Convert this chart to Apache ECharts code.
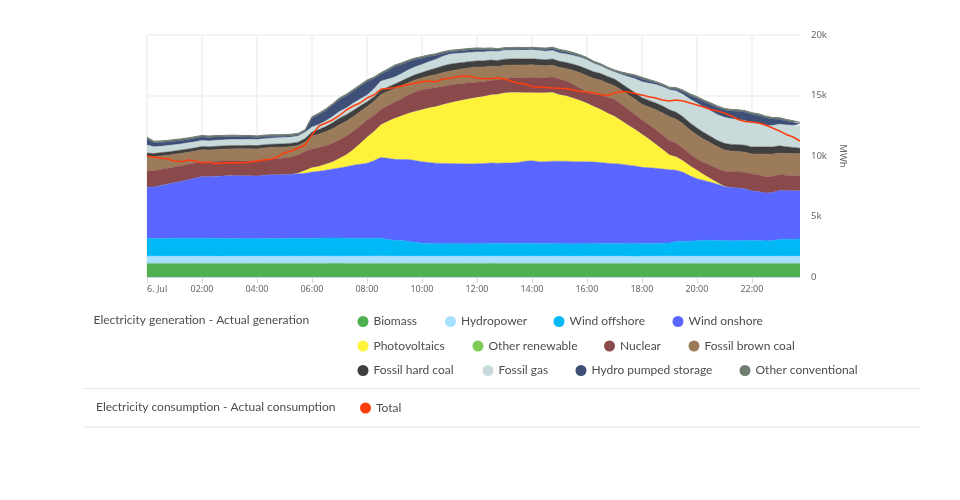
<!DOCTYPE html>
<html>
<head>
<meta charset="utf-8">
<style>html,body{margin:0;padding:0;background:#fff}#chart{width:960px;height:500px}</style>
<script src="https://cdn.jsdelivr.net/npm/echarts@6/dist/echarts.min.js"></script>
</head>
<body>
<div id="chart"></div>
<script>
// quarter-hour values in MWh, one line per hour
var biomass = [
  1125,1125,1120,1120, 1120,1125,1125,1120, 1120,1125,1120,1120, 1125,1125,1120,1120,
  1120,1120,1125,1125, 1120,1125,1125,1120, 1120,1125,1125,1130, 1130,1125,1125,1120,
  1120,1125,1120,1125, 1125,1120,1120,1125, 1125,1125,1125,1120, 1125,1125,1120,1120,
  1125,1125,1130,1125, 1125,1125,1120,1125, 1125,1120,1125,1125, 1125,1120,1120,1125,
  1125,1125,1120,1120, 1120,1125,1125,1120, 1125,1125,1120,1120, 1125,1125,1120,1120,
  1120,1125,1125,1120, 1125,1120,1120,1125, 1120,1125,1125,1120, 1120,1125,1120,1120
];
var hydro = [
  600,595,590,590, 590,585,585,590, 590,590,585,585, 585,590,590,590,
  590,590,590,585, 590,590,590,590, 590,595,595,590, 590,590,590,595,
  595,600,610,600, 595,590,590,590, 590,585,590,590, 590,590,595,590,
  590,590,590,595, 590,585,590,590, 590,590,585,590, 590,590,585,585,
  590,590,590,590, 595,590,580,580, 585,590,590,600, 600,595,590,590,
  590,590,585,590, 590,590,590,585, 585,590,580,590, 600,590,590,590
];
var windOffshore = [
  1470,1465,1470,1480, 1485,1490,1490,1485, 1490,1490,1485,1480, 1470,1460,1450,1450,
  1460,1465,1470,1470, 1470,1470,1480,1480, 1480,1490,1500,1500, 1500,1490,1490,1490,
  1490,1480,1470,1380, 1320,1300,1230,1150, 1080,1060,1040,1040, 1040,1040,1040,1030,
  1040,1040,1050,1060, 1060,1060,1060,1070, 1060,1050,1050,1050, 1040,1040,1040,1040,
  1040,1040,1050,1050, 1050,1050,1040,1040, 1050,1060,1060,1060, 1080,1220,1240,1250,
  1290,1320,1320,1310, 1300,1280,1280,1300, 1320,1310,1280,1300, 1380,1410,1400,1430
];
var windOnshore = [
  4230,4250,4370,4480, 4590,4700,4830,4960, 5090,5075,5120,5160, 5190,5190,5190,5200,
  5170,5230,5250,5260, 5280,5300,5330,5380, 5480,5520,5600,5700, 5785,5900,6030,6120,
  6200,6400,6680,6700, 6690,6700,6770,6760, 6730,6700,6650,6640, 6620,6610,6600,6600,
  6610,6620,6650,6620, 6640,6650,6700,6780, 6830,6760,6770,6800, 6810,6810,6790,6780,
  6760,6740,6700,6640, 6600,6560,6500,6430, 6300,6260,6220,6150, 6050,5880,5700,5400,
  5120,4950,4800,4650, 4450,4400,4360,4270, 4080,4040,3950,3970, 4040,4000,4010,3970
];
var photovoltaics = [
  0,0,0,0, 0,0,0,0, 0,0,0,0, 0,0,0,0,
  0,0,0,0, 0,5,60,250, 370,420,500,600, 800,1000,1300,1700,
  2150,2400,2700,3050, 3390,3600,3820,4060, 4300,4500,4680,4850, 5010,5150,5280,5400,
  5480,5560,5640,5700, 5800,5830,5780,5680, 5640,5700,5700,5690, 5500,5400,5250,5060,
  4850,4600,4400,4150, 3930,3600,3300,3030, 2750,2380,2000,1620, 1240,1100,950,830,
  715,480,300,120, 20,0,0,0, 0,0,0,0, 0,0,0,0
];
var otherRenewable = [
  10,10,10,10, 10,10,10,10, 10,10,10,10, 10,10,10,10,
  10,10,10,10, 10,10,10,10, 10,10,10,10, 10,10,10,10,
  10,10,10,10, 10,10,10,10, 10,10,10,10, 10,10,10,10,
  10,10,10,10, 10,10,10,10, 10,10,10,10, 10,10,10,10,
  10,10,10,10, 10,10,10,10, 10,10,10,10, 10,10,10,10,
  10,10,10,10, 10,10,10,10, 10,10,10,10, 10,10,10,10
];
var nuclear = [
  1350,1340,1330,1310, 1300,1290,1270,1260, 1240,1240,1240,1230, 1230,1240,1240,1240,
  1240,1260,1290,1320, 1360,1420,1480,1560, 1530,1540,1520,1520, 1520,1530,1500,1450,
  1400,1320,1240,1280, 1320,1400,1500,1600, 1650,1600,1540,1500, 1450,1400,1340,1300,
  1240,1220,1200,1170, 1180,1180,1200,1220, 1260,1260,1240,1270, 1290,1230,1120,1000,
  885,1000,1180,1300, 1380,1340,1290,1220, 1157,1170,1180,1180, 1180,1120,1040,970,
  910,990,1080,1160, 1240,1280,1320,1360, 1400,1380,1350,1330, 1300,1280,1260,1240
];
var fossilBrownCoal = [
  1180,1150,1120,1080, 1050,1020,1000,980, 970,960,960,970, 970,980,990,990,
  990,980,960,940, 900,860,800,770, 1070,1100,1150,1200, 1240,1220,1200,1180,
  1100,1170,1240,1180, 1115,1080,1020,990, 970,1030,1090,1130, 1160,1190,1230,1250,
  1265,1200,1150,1110, 1100,1080,1060,1040, 1020,1000,980,970, 960,1020,1150,1280,
  1370,1300,1220,1160, 1125,1170,1220,1260, 1300,1450,1650,1820, 1960,1980,1990,1980,
  1980,1920,1860,1800, 1760,1720,1690,1670, 1650,1720,1870,1840, 1790,1800,1810,1820
];
var fossilHardCoal = [
  280,270,270,270, 270,280,270,270, 280,270,280,270, 280,280,270,280,
  280,270,280,280, 280,280,270,280, 330,380,430,500, 550,540,520,470,
  413,380,355,360, 370,390,410,430, 440,480,520,560, 580,550,520,510,
  500,500,510,500, 500,500,510,500, 500,500,500,510, 500,510,520,530,
  550,550,550,550, 550,545,540,540, 545,550,560,570, 580,590,590,585,
  580,560,540,520, 550,560,570,570, 580,580,580,590, 600,550,510,470
];
var fossilGas = [
  660,560,520,520, 510,500,510,500, 500,490,500,500, 500,490,500,500,
  500,510,500,510, 510,500,510,520, 410,430,470,510, 550,570,590,570,
  550,650,745,660, 580,600,630,650, 660,700,740,790, 830,800,770,750,
  740,740,730,740, 740,730,740,740, 740,730,700,700, 690,700,730,750,
  770,700,640,620, 600,750,950,1150, 1320,1420,1510,1590, 1650,1750,1850,1960,
  2070,2090,2110,2130, 2150,2120,2080,2030, 1980,1900,1760,1770, 1790,1800,1820,1840
];
var hydroPumpedStorage = [
  500,320,310,300, 300,290,280,290, 280,270,260,240, 230,220,200,190,
  170,160,150,130, 120,110,90,80, 720,800,860,930, 990,1000,1010,1050,
  1115,850,580,700, 860,770,680,600, 530,430,330,250, 180,190,200,200,
  200,170,140,110, 80,80,80,80, 80,100,130,150, 165,140,110,80,
  60,40,30,20, 20,70,130,190, 230,180,130,100, 80,150,230,310,
  390,460,530,590, 610,640,670,700, 720,700,660,530, 410,330,250,165
];
var otherConventional = [
  150,140,130,130, 130,130,130,130, 130,130,130,130, 130,130,130,130,
  130,130,130,130, 130,130,130,130, 130,130,130,130, 130,130,130,130,
  130,130,130,130, 130,130,130,130, 130,130,130,130, 130,130,130,130,
  130,130,130,130, 130,130,130,130, 130,130,130,130, 130,130,130,130,
  130,130,130,130, 130,130,130,130, 130,130,130,130, 130,130,130,130,
  130,130,130,130, 130,130,130,130, 130,130,130,130, 130,130,130,130
];
var totalConsumption = [
  10000,9920,9830,9750, 9590,9530,9670,9590, 9450,9500,9360,9420, 9450,9450,9450,9500,
  9590,9670,9730,9920, 10270,10410,10660,10910, 11740,12480,12730,12980, 13350,13800,14130,14380,
  14790,15040,15510,15580, 15640,15780,15910,16030, 16140,16200,16120,16360, 16420,16530,16610,16570,
  16450,16390,16400,16450, 16360,16200,16010,15950, 15730,15700,15660,15620, 15590,15580,15450,15330,
  15290,15210,15080,15000, 15210,15330,15290,15170, 15040,14900,14790,14630, 14550,14630,14550,14380,
  14210,14050,13840,13720, 13550,13310,13020,12850, 12810,12730,12560,12310, 12070,11780,11570,11240
];

var seriesNames = ['Biomass','Hydropower','Wind offshore','Wind onshore','Photovoltaics','Other renewable','Nuclear','Fossil brown coal','Fossil hard coal','Fossil gas','Hydro pumped storage','Other conventional'];
var seriesValues = [biomass,hydro,windOffshore,windOnshore,photovoltaics,otherRenewable,nuclear,fossilBrownCoal,fossilHardCoal,fossilGas,hydroPumpedStorage,otherConventional];
var seriesColors = ['#4fb051','#a8e0ff','#00b8f5','#5966ff','#fff23a','#7fcb55','#8a4a4c','#9c7b5b','#3f3f3f','#c8dbda','#3f5078','#6f7c6f'];
var seriesLines = [0.5,0.5,0.5,0.5,0,0,0.5,0.5,0.5,0.5,0.5,1];

var timeLabels = [];
for (var h = 0; h < 24; h++) {
  ['00','15','30','45'].forEach(function (m) {
    timeLabels.push((h < 10 ? '0' + h : h) + ':' + m);
  });
}

// legend dot left edge and top edge for each entry
var legendSpots = [
  [357.5,315.5],[445,315.5],[553.5,315.5],[672.5,315.5],
  [357.5,340],[472.5,340],[604,340],[688.5,340],
  [357.5,364.5],[482.5,364.5],[575.5,364.5],[739.5,364.5],
  [360,402]
];

var textFont = 'Lato, sans-serif';
var everyTwoHours = function (i) { return i % 8 === 0; };

var series = seriesNames.map(function (name, i) {
  return {
    name: name,
    type: 'line',
    stack: 'generation',
    data: seriesValues[i],
    showSymbol: false,
    color: seriesColors[i],
    lineStyle: {width: seriesLines[i], color: seriesColors[i]},
    areaStyle: {color: seriesColors[i], opacity: 1}
  };
});
series.push({
  name: 'Total',
  type: 'line',
  data: totalConsumption,
  showSymbol: false,
  color: '#ff3d0d',
  lineStyle: {width: 1.5, color: '#ff3d0d'},
  z: 5
});

var legends = seriesNames.concat(['Total']).map(function (name, i) {
  return {
    data: [name],
    left: legendSpots[i][0],
    top: legendSpots[i][1],
    icon: 'circle',
    itemWidth: 11,
    itemHeight: 11,
    padding: 0,
    selectedMode: false,
    textStyle: {fontFamily: textFont, fontSize: 12, color: '#4d4d4d'}
  };
});

var chart = echarts.init(document.getElementById('chart'));
chart.setOption({
  animation: false,
  backgroundColor: '#fff',
  grid: {left: 147, right: 160, top: 35, bottom: 223},
  legend: legends,
  xAxis: {
    type: 'category',
    boundaryGap: false,
    data: timeLabels,
    axisLine: {lineStyle: {color: '#ccd6eb'}},
    axisTick: {interval: everyTwoHours, length: 6, lineStyle: {color: '#ccd6eb'}},
    axisLabel: {
      interval: everyTwoHours,
      formatter: function (v, i) { return i === 0 ? '6. Jul' : v; },
      alignMinLabel: 'left',
      color: '#666',
      fontFamily: '"Noto Sans", sans-serif',
      fontSize: 9,
      margin: 8
    },
    splitLine: {show: true, interval: everyTwoHours, lineStyle: {color: '#f0f0f0', width: 1.6}}
  },
  yAxis: {
    type: 'value',
    position: 'right',
    min: 0,
    max: 20000,
    interval: 5000,
    name: 'MWh',
    nameLocation: 'middle',
    nameRotate: -90,
    nameGap: 26,
    nameTextStyle: {color: '#666', fontFamily: '"Noto Sans", sans-serif', fontSize: 9.5},
    axisLine: {show: false},
    axisTick: {show: false},
    axisLabel: {
      color: '#666',
      fontFamily: '"Noto Sans", sans-serif',
      fontSize: 9.5,
      margin: 11,
      formatter: function (v) { return v === 0 ? '0' : (v / 1000) + 'k'; }
    },
    splitLine: {lineStyle: {color: '#f0f0f0', width: 1.6}}
  },
  series: series,
  graphic: [
    {type: 'text', left: 93.5, top: 314, style: {text: 'Electricity generation - Actual generation', fontFamily: textFont, fontSize: 12, fill: '#4d4d4d'}},
    {type: 'text', left: 96, top: 401, style: {text: 'Electricity consumption - Actual consumption', fontFamily: textFont, fontSize: 12, fill: '#4d4d4d'}},
    {type: 'line', shape: {x1: 83, y1: 388.5, x2: 920, y2: 388.5}, style: {stroke: '#e6e6e6', lineWidth: 1}},
    {type: 'line', shape: {x1: 83, y1: 427, x2: 920, y2: 427}, style: {stroke: '#e6e6e6', lineWidth: 1}}
  ]
});
</script>
</body>
</html>
